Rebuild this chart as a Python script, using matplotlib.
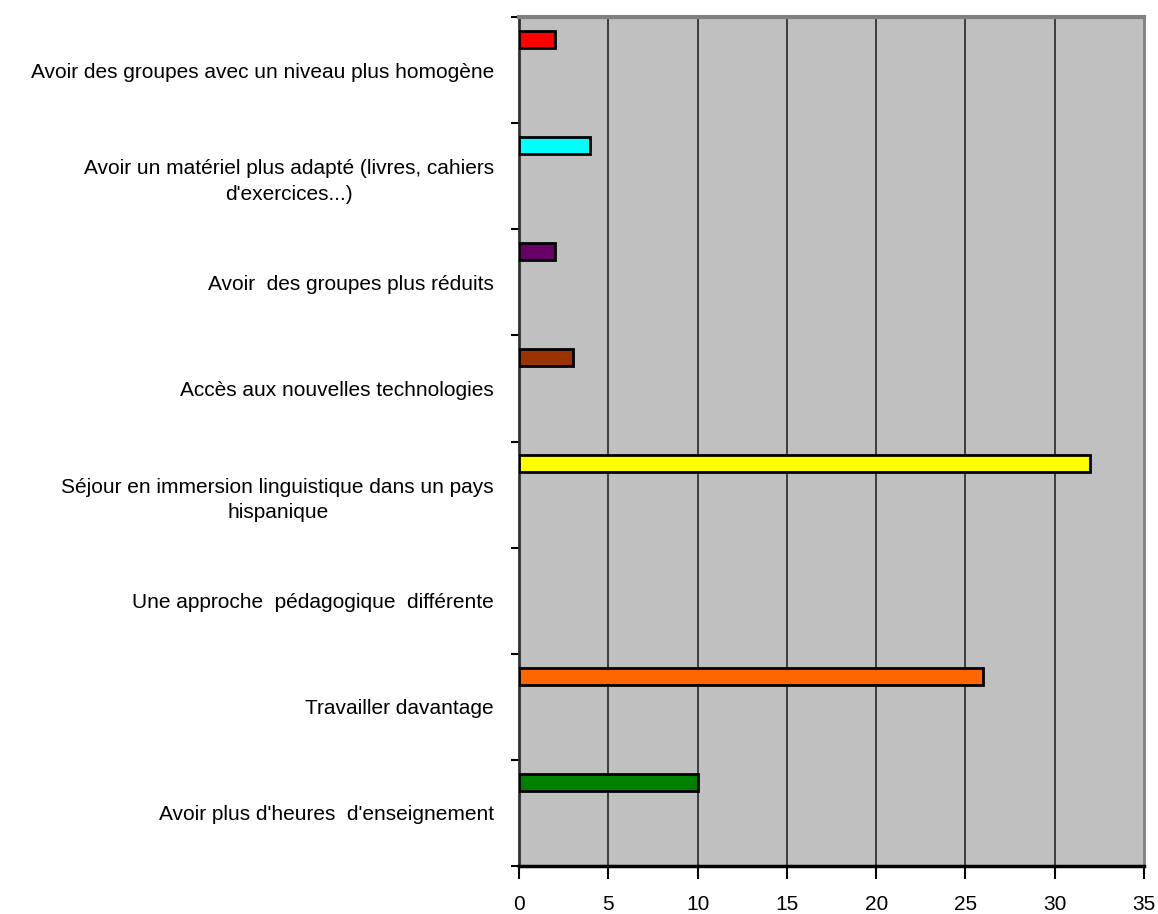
import numpy as np
import matplotlib
matplotlib.use("Agg")
import matplotlib.pyplot as plt

plt.rcParams['font.family'] = ['Liberation Sans', 'DejaVu Sans']

# réponses, de haut en bas
categories = [
    "Avoir des groupes avec un niveau plus homogène",
    "Avoir un matériel plus adapté (livres, cahiers\nd'exercices...)",
    "Avoir  des groupes plus réduits",
    "Accès aux nouvelles technologies",
    "Séjour en immersion linguistique dans un pays\nhispanique",
    "Une approche  pédagogique  différente",
    "Travailler davantage",
    "Avoir plus d'heures  d'enseignement",
]
values = [2, 4, 2, 3, 32, 0, 26, 10]
colors = ["#FF0000", "#00FFFF", "#660066", "#993300",
          "#FFFF00", "#FFFFFF", "#FF6600", "#008000"]
xticks = [0, 5, 10, 15, 20, 25, 30, 35]

fig = plt.figure(figsize=(11.58, 9.14), dpi=100)
ax = fig.add_axes([519/1158, 1 - 866/914, (1144 - 519)/1158, (866 - 17)/914])
ax.set_facecolor("#C0C0C0")

n = len(categories)
pos = np.arange(n)
# chaque barre est dans le haut de sa case, pas de contour si la valeur est nulle
lw = [2 if v > 0 else 0 for v in values]
ax.barh(pos - 0.29, values, height=0.16, color=colors,
        edgecolor="black", linewidth=lw, zorder=3)

ax.set_xlim(0, 35)
ax.set_ylim(n - 0.5, -0.5)

ax.set_xticks(xticks)
ax.set_xticklabels([str(t) for t in xticks], fontsize=15)
for x in xticks[1:-1]:
    ax.axvline(x, color="#1a1a1a", linewidth=1.1, zorder=1)

ax.set_yticks(np.arange(n + 1) - 0.5)
ax.set_yticklabels([])
ax.set_yticks(pos, minor=True)
ax.set_yticklabels(categories, minor=True, fontsize=15, ha="right",
                   multialignment="center", linespacing=1.45)
ax.tick_params(axis="y", which="minor", length=0, pad=18)
ax.tick_params(axis="y", which="major", direction="out", length=6, width=1.5)
ax.tick_params(axis="x", direction="out", length=9, width=1.5, pad=12)

ax.spines["left"].set_color("#303030")
ax.spines["left"].set_linewidth(2)
ax.spines["bottom"].set_color("black")
ax.spines["bottom"].set_linewidth(2.5)
ax.spines["top"].set_color("#808080")
ax.spines["top"].set_linewidth(3)
ax.spines["right"].set_color("#808080")
ax.spines["right"].set_linewidth(2)

plt.savefig("out.png", dpi=100)
